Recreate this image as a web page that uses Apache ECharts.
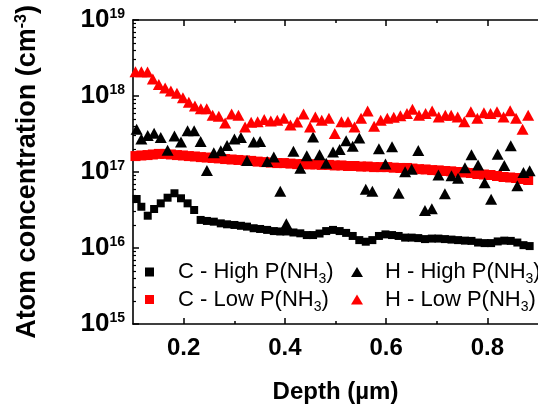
<!DOCTYPE html>
<html><head><meta charset="utf-8">
<script src="https://cdn.jsdelivr.net/npm/echarts@6/dist/echarts.min.js"></script>
<style>html,body{margin:0;padding:0;background:#fff}#c{width:538px;height:409px}</style>
</head><body><div id="c"></div><script>
// ---- data (depth in µm, concentration in cm^-3) ----
const depthHigh = [0.1072,0.1165,0.1291,0.1417,0.1548,0.1683,0.1819,0.1948,0.2078,0.2208,
  0.2336,0.2460,0.2596,0.2734,0.2858,0.3004,0.3132,0.3252,0.3383,0.3511,
  0.3650,0.3781,0.3909,0.4029,0.4169,0.4305,0.4433,0.4557,0.4685,0.4816,
  0.4951,0.5082,0.5210,0.5340,0.5470,0.5598,0.5728,0.5858,0.5987,0.6117,
  0.6247,0.6375,0.6505,0.6635,0.6767,0.6903,0.7033,0.7161,0.7291,0.7421,
  0.7557,0.7686,0.7816,0.7946,0.8074,0.8204,0.8334,0.8462,0.8592,0.8713,0.8835];
const cHigh = [4.41e16,3.49e16,2.66e16,3.26e16,3.87e16,4.59e16,5.25e16,4.51e16,3.87e16,3.16e16,
  2.34e16,2.27e16,2.22e16,2.11e16,2.05e16,2.01e16,1.96e16,1.91e16,1.82e16,1.78e16,
  1.73e16,1.67e16,1.65e16,1.65e16,1.60e16,1.56e16,1.48e16,1.48e16,1.55e16,1.67e16,
  1.73e16,1.67e16,1.58e16,1.44e16,1.27e16,1.21e16,1.27e16,1.44e16,1.51e16,1.48e16,
  1.44e16,1.37e16,1.37e16,1.35e16,1.31e16,1.33e16,1.33e16,1.31e16,1.29e16,1.27e16,
  1.25e16,1.24e16,1.18e16,1.16e16,1.16e16,1.22e16,1.25e16,1.24e16,1.18e16,1.09e16,1.06e16];
const hHigh = [3.65e17,2.72e17,3.02e17,3.23e17,2.84e17,1.93e17,2.98e17,2.48e17,3.48e17,3.48e17,
  2.52e17,1.05e17,1.79e17,1.90e17,2.23e17,2.72e17,2.84e17,1.42e17,2.48e17,2.52e17,
  1.37e17,1.57e17,5.57e16,2.08e16,1.87e17,1.12e17,1.63e17,2.89e17,1.69e17,1.30e17,
  1.83e17,1.97e17,2.57e17,2.18e17,2.80e17,5.94e16,5.56e16,2.03e17,1.27e17,2.15e17,
  5.25e16,1.01e17,1.09e17,1.92e17,3.11e16,3.28e16,9.13e16,5.18e16,8.91e16,8.26e16,
  1.14e17,1.69e17,1.24e17,7.23e16,4.39e16,1.71e17,1.22e17,2.21e17,6.58e16,9.85e16,1.04e17];
const depthLow = [0.1049,0.1165,0.1287,0.1392,0.1510,0.1635,0.1748,0.1868,0.1986,0.2103,
  0.2223,0.2340,0.2456,0.2573,0.2695,0.2820,0.2948,0.3083,0.3214,0.3334,
  0.3462,0.3592,0.3722,0.3850,0.3980,0.4110,0.4243,0.4369,0.4497,0.4602,
  0.4728,0.4870,0.4986,0.5117,0.5247,0.5375,0.5505,0.5635,0.5763,0.5893,
  0.6023,0.6151,0.6282,0.6412,0.6520,0.6650,0.6780,0.6909,0.7039,0.7169,
  0.7285,0.7414,0.7544,0.7674,0.7802,0.7932,0.8062,0.8190,0.8320,0.8450,0.8567,0.8695,0.8806];
const cLow = [1.62e17,1.65e17,1.67e17,1.70e17,1.73e17,1.73e17,1.70e17,1.67e17,1.65e17,1.62e17,
  1.60e17,1.57e17,1.55e17,1.53e17,1.51e17,1.48e17,1.46e17,1.44e17,1.42e17,1.40e17,
  1.37e17,1.35e17,1.33e17,1.31e17,1.31e17,1.29e17,1.27e17,1.27e17,1.26e17,1.26e17,
  1.24e17,1.24e17,1.22e17,1.22e17,1.20e17,1.20e17,1.18e17,1.18e17,1.16e17,1.16e17,
  1.16e17,1.14e17,1.13e17,1.13e17,1.11e17,1.09e17,1.08e17,1.06e17,1.05e17,1.03e17,
  1.02e17,1.00e17,9.85e16,9.70e16,9.41e16,9.27e16,9.13e16,8.86e16,8.60e16,8.47e16,8.34e16,8.09e16,7.85e16];
const hLow = [2.09e18,2.09e18,2.07e18,1.67e18,1.42e18,1.27e18,1.16e18,1.09e18,9.5e17,8.3e17,
  7.4e17,6.8e17,6.8e17,5.6e17,5.4e17,4.4e17,5.8e17,5.6e17,3.9e17,4.5e17,
  4.6e17,4.9e17,4.7e17,4.8e17,5.1e17,4.15e17,4.55e17,5.8e17,3.9e17,5.3e17,
  4.8e17,5.1e17,3.2e17,4.6e17,4.6e17,3.9e17,5.1e17,6.35e17,4.0e17,4.8e17,
  5.1e17,5.25e17,5.5e17,5.9e17,6.7e17,5.6e17,5.9e17,6.35e17,5.3e17,5.6e17,
  5.6e17,5.3e17,4.6e17,6.2e17,5.1e17,6.0e17,5.9e17,6.2e17,5.3e17,6.4e17,5.1e17,3.65e17,5.6e17];
const seriesNames = ['C - High P(NH3)','C - Low P(NH3)','H - High P(NH3)','H - Low P(NH3)'];
const xTicks = [0.2,0.4,0.6,0.8];
const xMinorTicks = [0.3,0.5,0.7];
const yDecades = [15,16,17,18,19];

// ---- chart ----
const FONT = '"Liberation Sans", Arial, sans-serif';
const yMinor = [];
for (let n = yDecades[0]; n < yDecades[yDecades.length-1]; n++) {
  for (let k = 2; k <= 9; k++) yMinor.push(n + Math.log10(k));
}
const pairs = (xs, ys) => xs.map((x, i) => [x, ys[i]]);
const legendFmt = name => '{t|' + name.replace('(NH3)', '(NH}{s|3}{t|)') + '}';
const legendRich = {
  t: {fontSize: 22, fontFamily: FONT, color: '#000', verticalAlign: 'middle'},
  s: {fontSize: 14, fontFamily: FONT, color: '#000', verticalAlign: 'bottom', padding: [15, 0, 0, 0]}
};
const axLine = {show: true, lineStyle: {color: '#000', width: 1.6}};
const chart = echarts.init(document.getElementById('c'), null, {renderer: 'canvas'});
chart.setOption({
  animation: false,
  backgroundColor: '#fff',
  grid: {left: 133, top: 20, width: 412, height: 304},
  legend: [
    {data: [seriesNames[0], seriesNames[1]], orient: 'vertical', left: 140, top: 256, itemGap: 2,
     icon: 'rect', itemWidth: 9, itemHeight: 9, formatter: legendFmt,
     textStyle: {rich: legendRich, padding: [0, 0, 0, 19]}},
    {data: [seriesNames[2], seriesNames[3]], orient: 'vertical', left: 346, top: 256, itemGap: 2,
     icon: 'triangle', itemWidth: 12, itemHeight: 10, formatter: legendFmt,
     textStyle: {rich: legendRich, padding: [0, 0, 0, 17]}}
  ],
  xAxis: [
    {type: 'value', min: 0.1, max: 0.9, position: 'bottom', axisLine: axLine,
     splitLine: {show: false},
     axisTick: {inside: true, length: 6, customValues: xTicks, lineStyle: {color: '#000', width: 1.5}},
     axisLabel: {customValues: xTicks, margin: 12, fontSize: 24, fontWeight: 'bold', fontFamily: FONT, color: '#000',
                 formatter: v => v.toFixed(1)},
     name: 'Depth (µm)', nameLocation: 'middle', nameGap: 56,
     nameTextStyle: {fontSize: 24, fontWeight: 'bold', fontFamily: FONT, color: '#000'}},
    {type: 'value', min: 0.1, max: 0.9, position: 'bottom', axisLine: {show: false}, splitLine: {show: false},
     axisTick: {inside: true, length: 3, customValues: xMinorTicks, lineStyle: {color: '#000', width: 1.5}},
     axisLabel: {show: false}},
    {type: 'value', min: 0.1, max: 0.9, position: 'top', axisLine: axLine, splitLine: {show: false},
     axisTick: {inside: true, length: 6, customValues: xTicks, lineStyle: {color: '#000', width: 1.5}},
     axisLabel: {show: false}},
    {type: 'value', min: 0.1, max: 0.9, position: 'top', axisLine: {show: false}, splitLine: {show: false},
     axisTick: {inside: true, length: 3, customValues: xMinorTicks, lineStyle: {color: '#000', width: 1.5}},
     axisLabel: {show: false}}
  ],
  yAxis: [
    {type: 'log', logBase: 10, min: 1e15, max: 1e19, position: 'left', axisLine: axLine,
     splitLine: {show: false},
     axisTick: {inside: true, length: 6, lineStyle: {color: '#000', width: 1.5}},
     axisLabel: {margin: 8, color: '#000',
       formatter: v => '{b|10}{s|' + Math.round(Math.log10(v)) + '}',
       rich: {b: {fontSize: 26, fontWeight: 'bold', fontFamily: FONT, color: '#000', verticalAlign: 'bottom'},
              s: {fontSize: 14, fontWeight: 'bold', fontFamily: FONT, color: '#000', verticalAlign: 'top'}}},
     name: '{m|Atom concentration (cm}{s|-3}{m|)}', nameLocation: 'middle', nameGap: 92, nameRotate: 90,
     nameTextStyle: {rich: {m: {fontSize: 27, fontWeight: 'bold', fontFamily: FONT, color: '#000', verticalAlign: 'bottom'},
                            s: {fontSize: 16, fontWeight: 'bold', fontFamily: FONT, color: '#000', verticalAlign: 'top'}}}},
    {type: 'value', min: 15, max: 19, position: 'left', axisLine: {show: false}, splitLine: {show: false},
     axisTick: {inside: true, length: 3, customValues: yMinor, lineStyle: {color: '#000', width: 1.2}},
     axisLabel: {show: false}}
  ],
  series: [
    {name: seriesNames[0], type: 'scatter', data: pairs(depthHigh, cHigh), symbol: 'rect', symbolSize: 8,
     itemStyle: {color: '#000', opacity: 1}},
    {name: seriesNames[1], type: 'scatter', data: pairs(depthLow, cLow), symbol: 'rect', symbolSize: 10,
     itemStyle: {color: '#ff0000', opacity: 1}},
    {name: seriesNames[2], type: 'scatter', data: pairs(depthHigh, hHigh), symbol: 'triangle', symbolSize: [12, 11],
     itemStyle: {color: '#000', opacity: 1}},
    {name: seriesNames[3], type: 'scatter', data: pairs(depthLow, hLow), symbol: 'triangle', symbolSize: [12, 11],
     itemStyle: {color: '#ff0000', opacity: 1}}
  ]
});
</script></body></html>
